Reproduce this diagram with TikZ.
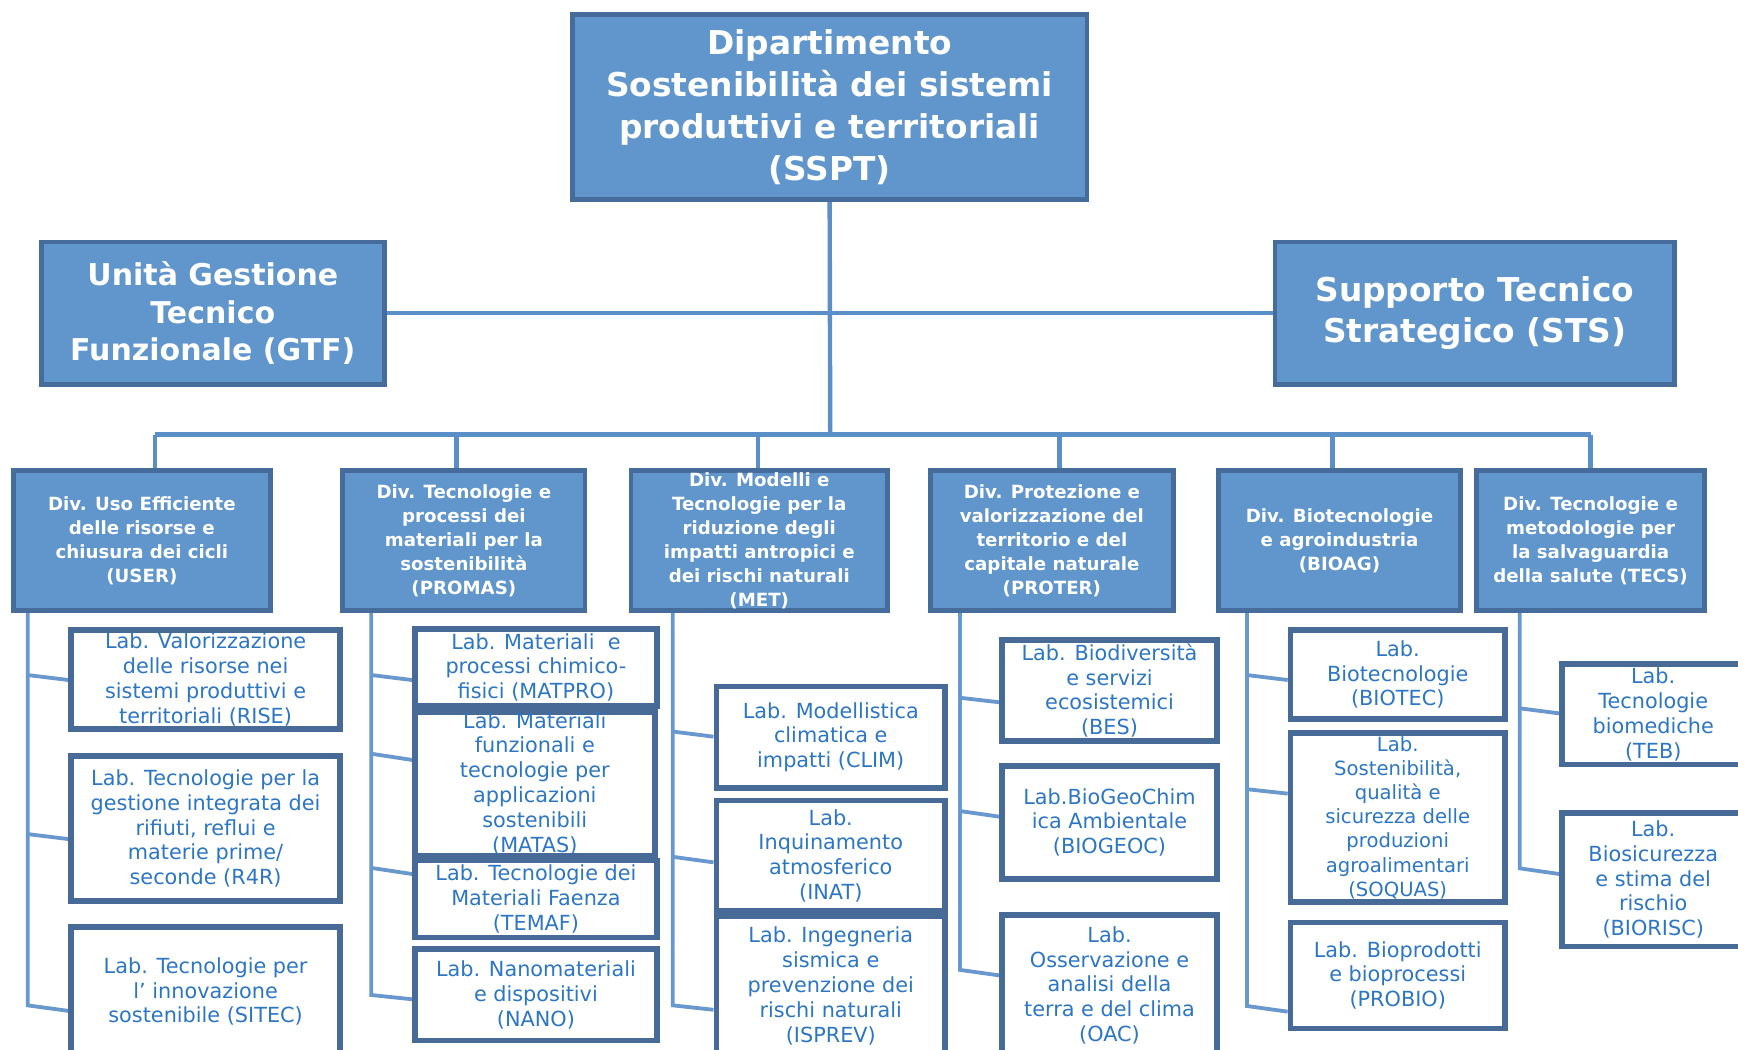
\documentclass[tikz,border=0pt]{standalone}
\usepackage{fontspec}
\setmainfont{DejaVu Sans}
\usetikzlibrary{calc,backgrounds}
\definecolor{boxfill}{RGB}{96,150,203}
\definecolor{boxborder}{RGB}{70,108,156}
\definecolor{conncol}{RGB}{91,143,200}
\definecolor{treecol}{RGB}{104,152,206}
\definecolor{labborder}{RGB}{72,106,150}
\definecolor{labtext}{RGB}{44,118,196}
\newcommand\mkbox[7]{\node[#6, minimum width={(#4-#2-4.5)*0.5542pt}, minimum height={(#5-#3-4.5)*0.5542pt}] (#1) at ({(#2+#4)/2},{(#3+#5)/2}) {#7};}
\tikzset{
  topbox/.style={draw=boxborder, line width=2.4pt, fill=boxfill, text=white, align=center, inner sep=0pt},
  divbox/.style={topbox, font={\bfseries\fontsize{9.1}{12}\selectfont}},
  labbox/.style={draw=labborder, line width=2.8pt, fill=white, text=labtext, align=center, inner sep=0pt, font={\fontsize{10.4}{12.4}\selectfont}},
  conn/.style={draw=conncol, line width=2.2pt},
  tree/.style={draw=treecol, line width=1.9pt}
}
\begin{document}
\begin{tikzpicture}[x=0.5542pt,y=-0.5542pt]
\useasboundingbox (0,0) rectangle (1568,947);

% coordinates of the bus
\coordinate (hub) at (749,392);
\coordinate (b1) at (140,392);
\coordinate (b2) at (412,392);
\coordinate (b3) at (684,392);
\coordinate (b4) at (956,392);
\coordinate (b5) at (1202,392);
\coordinate (b6) at (1435,392);
\coordinate (tu) at (25,0);
\coordinate (tp) at (335,0);
\coordinate (tm) at (607,0);
\coordinate (tr) at (866,0);
\coordinate (tb) at (1125,0);
\coordinate (tt) at (1371,0);

% top level
\mkbox{sspt}{514}{11}{983}{182}{topbox, font={\bfseries\fontsize{16.4}{21}\selectfont}}{Dipartimento\\Sostenibilità dei sistemi\\produttivi e territoriali\\(SSPT)}
\mkbox{gtf}{35}{216}{349}{349}{topbox, font={\bfseries\fontsize{15}{18.8}\selectfont}}{Unità Gestione\\Tecnico\\Funzionale (GTF)}
\mkbox{sts}{1148}{216}{1513}{349}{topbox, font={\bfseries\fontsize{16.4}{20.5}\selectfont}}{Supporto Tecnico\\Strategico (STS)}

% divisions
\mkbox{user}{10}{422}{246}{553}{divbox}{Div. Uso Efficiente\\delle risorse e\\chiusura dei cicli\\(USER)}
\mkbox{promas}{307}{422}{530}{553}{divbox}{Div. Tecnologie e\\processi dei\\materiali per la\\sostenibilità\\(PROMAS)}
\mkbox{met}{567}{422}{803}{553}{divbox}{Div. Modelli e\\Tecnologie per la\\riduzione degli\\impatti antropici e\\dei rischi naturali\\(MET)}
\mkbox{proter}{837}{422}{1061}{553}{divbox}{Div. Protezione e\\valorizzazione del\\territorio e del\\capitale naturale\\(PROTER)}
\mkbox{bioag}{1097}{422}{1320}{553}{divbox}{Div. Biotecnologie\\e agroindustria\\(BIOAG)}
\mkbox{tecs}{1330}{422}{1540}{553}{divbox}{Div. Tecnologie e\\metodologie per\\la salvaguardia\\della salute (TECS)}

% labs
\mkbox{rise}{62}{566}{309}{660}{labbox}{Lab. Valorizzazione\\delle risorse nei\\sistemi produttivi e\\territoriali (RISE)}
\mkbox{r4r}{62}{680}{309}{815}{labbox}{Lab. Tecnologie per la\\gestione integrata dei\\rifiuti, reflui e\\materie prime/\\seconde (R4R)}
\mkbox{sitec}{62}{834}{309}{955}{labbox}{Lab. Tecnologie per\\l’ innovazione\\sostenibile (SITEC)}

\mkbox{matpro}{372}{565}{595}{639}{labbox}{Lab. Materiali\ \ e\\processi chimico-\\fisici (MATPRO)}
\mkbox{matas}{372}{640}{593}{774}{labbox}{Lab. Materiali\\funzionali e\\tecnologie per\\applicazioni\\sostenibili\\(MATAS)}
\mkbox{temaf}{372}{774}{595}{848}{labbox}{Lab. Tecnologie dei\\Materiali Faenza\\(TEMAF)}
\mkbox{nano}{372}{854}{595}{941}{labbox}{Lab. Nanomateriali\\e dispositivi\\(NANO)}

\mkbox{clim}{644}{617}{855}{713}{labbox}{Lab. Modellistica\\climatica e\\impatti (CLIM)}
\mkbox{inat}{644}{720}{855}{824}{labbox}{Lab.\\Inquinamento\\atmosferico\\(INAT)}
\mkbox{isprev}{644}{824}{855}{955}{labbox}{Lab. Ingegneria\\sismica e\\prevenzione dei\\rischi naturali\\(ISPREV)}

\mkbox{bes}{902}{575}{1100}{671}{labbox}{Lab. Biodiversità\\e servizi\\ecosistemici\\(BES)}
\mkbox{biogeoc}{902}{689}{1100}{795}{labbox}{Lab.BioGeoChim\\ica Ambientale\\(BIOGEOC)}
\mkbox{oac}{902}{823}{1100}{955}{labbox}{Lab.\\Osservazione e\\analisi della\\terra e del clima\\(OAC)}

\mkbox{biotec}{1162}{566}{1360}{651}{labbox}{Lab.\\Biotecnologie\\(BIOTEC)}
\mkbox{soquas}{1162}{659}{1360}{816}{labbox, font={\fontsize{9.8}{12.1}\selectfont}}{Lab.\\Sostenibilità,\\qualità e\\sicurezza delle\\produzioni\\agroalimentari\\(SOQUAS)}
\mkbox{probio}{1162}{830}{1360}{930}{labbox}{Lab. Bioprodotti\\e bioprocessi\\(PROBIO)}

\mkbox{teb}{1407}{597}{1576}{692}{labbox}{Lab.\\Tecnologie\\biomediche\\(TEB)}
\mkbox{biorisc}{1407}{731}{1576}{856}{labbox}{Lab.\\Biosicurezza\\e stima del\\rischio\\(BIORISC)}

\begin{scope}[on background layer]
\fill[white] (0,0) rectangle (1568,947);
% connectors top
\draw[conn] (sspt.south) -- (hub);
\draw[conn] (gtf.east) -- (sts.west);
\draw[conn] (b1) -- (b6);
\draw[conn] (b1) -- (b1 |- user.north);
\draw[conn] (b2) -- (b2 |- promas.north);
\draw[conn] (b3) -- (b3 |- met.north);
\draw[conn] (b4) -- (b4 |- proter.north);
\draw[conn] (b5) -- (b5 |- bioag.north);
\draw[conn] (b6) -- (b6 |- tecs.north);

% trees
\draw[tree] (user.south -| tu) -- (25,907) -- (sitec.west |- 0,912);
\draw[tree] (25,609) -- (rise.west |- 0,613.5);
\draw[tree] (25,752.5) -- (r4r.west |- 0,757);

\draw[tree] (promas.south -| tp) -- (335,897.7) -- (nano.west |- 0,901.5);
\draw[tree] (335,609) -- (matpro.west |- 0,613.5);
\draw[tree] (335,680) -- (matas.west |- 0,685.6);
\draw[tree] (335,783) -- (temaf.west |- 0,788.5);

\draw[tree] (met.south -| tm) -- (607,907) -- (isprev.west |- 0,911);
\draw[tree] (607,660) -- (clim.west |- 0,664.6);
\draw[tree] (607,773) -- (inat.west |- 0,778);

\draw[tree] (proter.south -| tr) -- (866,875) -- (oac.west |- 0,880);
\draw[tree] (866,629.5) -- (bes.west |- 0,633.6);
\draw[tree] (866,731.7) -- (biogeoc.west |- 0,736.8);

\draw[tree] (bioag.south -| tb) -- (1125,907.6) -- (probio.west |- 0,912.7);
\draw[tree] (1125,609) -- (biotec.west |- 0,613.5);
\draw[tree] (1125,712) -- (soquas.west |- 0,716);

\draw[tree] (tecs.south -| tt) -- (1371,783.4) -- (biorisc.west |- 0,788.5);
\draw[tree] (1371,639) -- (teb.west |- 0,643.6);
\end{scope}
\end{tikzpicture}
\end{document}
